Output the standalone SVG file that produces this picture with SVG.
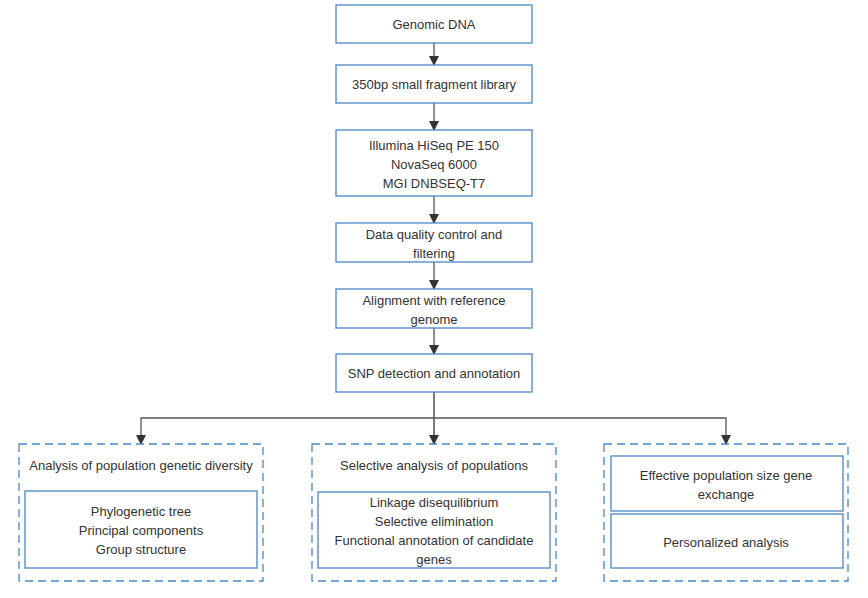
<svg xmlns="http://www.w3.org/2000/svg" width="868" height="598" viewBox="0 0 868 598">
<style>
.box{fill:#fff;stroke:#4a86c5;stroke-width:1.3}
.dash{fill:#fff;stroke:#4a86c5;stroke-width:1.3;stroke-dasharray:8 5}
.t{font-family:"Liberation Sans",Arial,sans-serif;font-size:13px;fill:#333;text-anchor:middle}
.ln{fill:none;stroke:#555;stroke-width:1.3}
</style>
<defs>
<marker id="ah" markerWidth="10" markerHeight="10" refX="9" refY="5" orient="auto" markerUnits="userSpaceOnUse">
<path d="M0,0 L10,5 L0,10 z" fill="#333"/>
</marker>
</defs>
<rect width="868" height="598" fill="#fff"/>
<g id="connectors">
<line class="ln" x1="434" y1="43" x2="434" y2="65" marker-end="url(#ah)"/>
<line class="ln" x1="434" y1="103" x2="434" y2="130" marker-end="url(#ah)"/>
<line class="ln" x1="434" y1="196" x2="434" y2="223" marker-end="url(#ah)"/>
<line class="ln" x1="434" y1="262" x2="434" y2="289" marker-end="url(#ah)"/>
<line class="ln" x1="434" y1="328" x2="434" y2="354" marker-end="url(#ah)"/>
<line class="ln" x1="434" y1="392" x2="434" y2="444" marker-end="url(#ah)" style="stroke:#333"/>
<polyline class="ln" points="434,418 141,418 141,444" marker-end="url(#ah)"/>
<polyline class="ln" points="434,418 726,418 726,444" marker-end="url(#ah)"/>
</g>
<g id="n1"><rect class="box" x="336" y="5" width="196" height="38"/><text class="t" x="434" y="28.5">Genomic DNA</text></g>
<g id="n2"><rect class="box" x="336" y="65" width="196" height="38"/><text class="t" x="434" y="88.5">350bp small fragment library</text></g>
<g id="n3"><rect class="box" x="336" y="130" width="196" height="66"/><text class="t" x="434" y="149.5">Illumina HiSeq PE 150</text><text class="t" x="434" y="168.5">NovaSeq 6000</text><text class="t" x="434" y="187.5">MGI DNBSEQ-T7</text></g>
<g id="n4"><rect class="box" x="336" y="223" width="196" height="39"/><text class="t" x="434" y="238.5">Data quality control and</text><text class="t" x="434" y="257.5">filtering</text></g>
<g id="n5"><rect class="box" x="336" y="289" width="196" height="39"/><text class="t" x="434" y="304.5">Alignment with reference</text><text class="t" x="434" y="323.5">genome</text></g>
<g id="n6"><rect class="box" x="336" y="354" width="196" height="38"/><text class="t" x="434" y="377.5">SNP detection and annotation</text></g>
<g id="g1"><rect class="dash" x="19" y="444" width="244" height="137"/><text class="t" x="141" y="470">Analysis of population genetic diversity</text>
<rect class="box" x="25" y="491" width="232" height="77"/><text class="t" x="141" y="516">Phylogenetic tree</text><text class="t" x="141" y="535">Principal components</text><text class="t" x="141" y="554">Group structure</text></g>
<g id="g2"><rect class="dash" x="312" y="444" width="244" height="137"/><text class="t" x="434" y="470">Selective analysis of populations</text>
<rect class="box" x="318" y="492" width="232" height="76"/><text class="t" x="434" y="507">Linkage disequilibrium</text><text class="t" x="434" y="526">Selective elimination</text><text class="t" x="434" y="545">Functional annotation of candidate</text><text class="t" x="434" y="564">genes</text></g>
<g id="g3"><rect class="dash" x="604" y="444" width="244" height="137"/>
<rect class="box" x="611" y="456" width="232" height="55"/><text class="t" x="726" y="480">Effective population size gene</text><text class="t" x="726" y="499">exchange</text>
<rect class="box" x="611" y="514" width="232" height="54"/><text class="t" x="726" y="547">Personalized analysis</text></g>
</svg>
